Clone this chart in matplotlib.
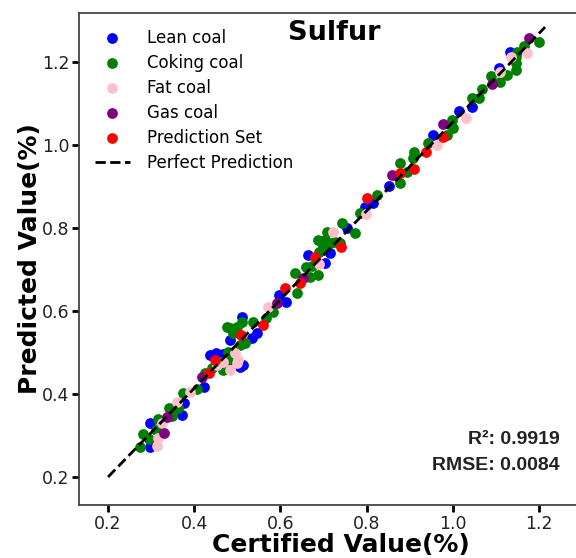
import matplotlib
matplotlib.use("Agg")
import matplotlib.pyplot as plt

# ---- data (certified, predicted) ----
lean_x = [0.297, 0.297, 0.372, 0.376, 0.423, 0.467, 0.506, 0.513, 0.437, 0.467, 0.451,
          0.483, 0.534, 0.546, 0.511, 0.613, 0.597, 0.664, 0.703, 0.715, 0.754, 0.796,
          0.815, 0.852, 0.954, 1.014, 1.044, 1.107, 1.133]
lean_y = [0.272, 0.330, 0.349, 0.378, 0.417, 0.460, 0.465, 0.470, 0.494, 0.496, 0.499,
          0.530, 0.535, 0.547, 0.586, 0.622, 0.639, 0.735, 0.716, 0.740, 0.800, 0.851,
          0.860, 0.901, 1.024, 1.082, 1.092, 1.186, 1.224]

coking_x = [0.274, 0.295, 0.281, 0.311, 0.316, 0.348, 0.342, 0.362, 0.374, 0.406, 0.425,
            0.441, 0.467, 0.483, 0.481, 0.478, 0.506, 0.518, 0.490, 0.476, 0.483, 0.499,
            0.511, 0.536, 0.567, 0.583, 0.638, 0.634, 0.669, 0.687, 0.659, 0.673, 0.690,
            0.699, 0.687, 0.703, 0.715, 0.727, 0.738, 0.708, 0.743, 0.773, 0.785, 0.824,
            0.877, 0.894, 0.877, 0.908, 0.910, 0.942, 0.986, 1.000, 0.998, 1.044, 1.061,
            1.068, 1.089, 1.110, 1.126, 1.147, 1.147, 1.147, 1.149, 1.165, 1.200]
coking_y = [0.272, 0.292, 0.304, 0.313, 0.340, 0.347, 0.366, 0.366, 0.402, 0.412, 0.451,
            0.463, 0.458, 0.482, 0.487, 0.501, 0.518, 0.523, 0.547, 0.562, 0.559, 0.562,
            0.574, 0.574, 0.583, 0.598, 0.643, 0.692, 0.682, 0.687, 0.706, 0.709, 0.742,
            0.757, 0.771, 0.771, 0.764, 0.766, 0.764, 0.790, 0.812, 0.788, 0.836, 0.880,
            0.909, 0.935, 0.957, 0.969, 0.983, 1.005, 1.024, 1.041, 1.060, 1.113, 1.113,
            1.135, 1.166, 1.152, 1.169, 1.181, 1.198, 1.212, 1.224, 1.239, 1.248]

fat_x = [0.314, 0.316, 0.325, 0.360, 0.390, 0.453, 0.467, 0.483, 0.499, 0.502, 0.495,
         0.571, 0.690, 0.722, 0.799, 0.963, 1.031, 1.110, 1.135, 1.172]
fat_y = [0.275, 0.294, 0.330, 0.381, 0.405, 0.470, 0.477, 0.458, 0.475, 0.482, 0.499,
         0.610, 0.713, 0.790, 0.834, 1.000, 1.065, 1.176, 1.212, 1.222]

gas_x = [0.330, 0.337, 0.418, 0.592, 0.652, 0.859, 0.977, 1.091, 1.177]
gas_y = [0.306, 0.345, 0.441, 0.619, 0.680, 0.928, 1.051, 1.147, 1.258]

pred_x = [0.434, 0.448, 0.509, 0.560, 0.611, 0.645, 0.680, 0.741, 0.801, 0.877, 0.910,
          0.938, 0.977]
pred_y = [0.451, 0.482, 0.542, 0.566, 0.655, 0.668, 0.730, 0.754, 0.872, 0.933, 0.942,
          0.983, 1.019]

line_x = [0.2, 1.214]
line_y = [0.2, 1.284]

r2_text = "R\u00b2: 0.9919"
rmse_text = "RMSE: 0.0084"

xticks = [0.2, 0.4, 0.6, 0.8, 1.0, 1.2]
yticks = [0.2, 0.4, 0.6, 0.8, 1.0, 1.2]

# ---- plot ----
fig = plt.figure(figsize=(5.76, 5.58), dpi=100)
ax = fig.add_axes([0.1372, 0.095, 0.887, 0.8817])

ms = 60
ax.scatter(lean_x, lean_y, s=ms, color="blue", label="Lean coal", zorder=3, linewidths=0)
ax.scatter(coking_x, coking_y, s=ms, color="green", label="Coking coal", zorder=3, linewidths=0)
ax.scatter(fat_x, fat_y, s=ms, color="pink", label="Fat coal", zorder=3, linewidths=0)
ax.scatter(gas_x, gas_y, s=ms, color="purple", label="Gas coal", zorder=3, linewidths=0)
ax.scatter(pred_x, pred_y, s=ms, color="red", label="Prediction Set", zorder=3, linewidths=0)
ax.plot(line_x, line_y, ls="--", color="black", lw=2, label="Perfect Prediction", zorder=4)

ax.set_xlim(0.1327, 1.318)
ax.set_ylim(0.1325, 1.318)
ax.set_xticks(xticks)
ax.set_yticks(yticks)
ax.tick_params(axis="both", direction="out", length=5, width=2, labelsize=12.5,
               pad=2, colors="black", labelcolor="#222222")
for side in ["left", "bottom", "top", "right"]:
    ax.spines[side].set_color("#444444")
    ax.spines[side].set_linewidth(1.3)

ax.set_xlabel("Certified Value(%)", fontsize=18, fontweight="bold", labelpad=1)
ax.xaxis.set_label_coords(0.512, -0.057)
ax.set_ylabel("Predicted Value(%)", fontsize=18, fontweight="bold", labelpad=2)
ax.yaxis.set_label_coords(-0.073, 0.5)

ax.text(0.5, 0.985, "Sulfur", transform=ax.transAxes, ha="center", va="top",
        fontsize=19.5, fontweight="bold")

ax.text(0.941, 0.134, r2_text, transform=ax.transAxes, ha="right", va="center",
        fontsize=14, fontweight="bold", family="Liberation Sans", color="#222222")
ax.text(0.941, 0.081, rmse_text, transform=ax.transAxes, ha="right", va="center",
        fontsize=14, fontweight="bold", family="Liberation Sans", color="#222222")

ax.legend(loc="upper left", frameon=False, fontsize=12, handlelength=2.1,
          handletextpad=1.0, labelspacing=0.42, borderaxespad=0.5, markerscale=1.0,
          borderpad=0.45)

fig.savefig("out.png", dpi=100)
